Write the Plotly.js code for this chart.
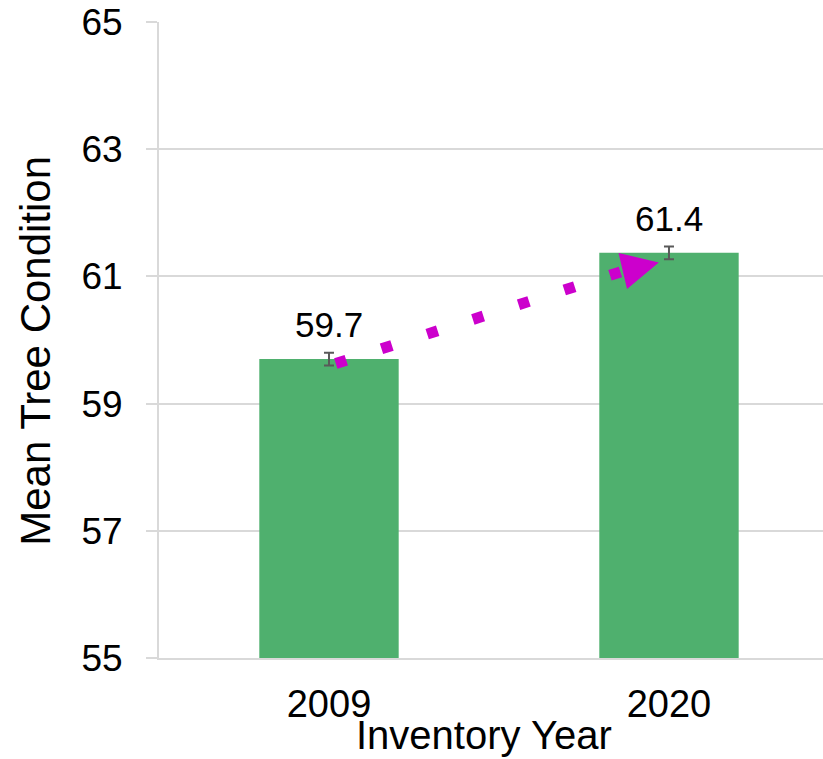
<!DOCTYPE html>
<html>
<head>
<meta charset="utf-8">
<script src="https://cdn.plot.ly/plotly-3.0.1.min.js"></script>
<style>html,body{margin:0;padding:0;background:#fff;}#chart{width:823px;height:759px;}</style>
</head>
<body>
<div id="chart"></div>
<script>
var years = ['2009', '2020'];
var meanCondition = [59.7, 61.37];
var stdErrors = [0.1, 0.1];
var valueLabels = ['59.7', '61.4'];
var yTicks = [55, 57, 59, 61, 63, 65];

var idx = years.map(function (_, i) { return i; });
var FONT = '"Liberation Sans", Arial, sans-serif';
var MAGENTA = '#CC00CC';

// trend arrow, anchored to the two bar tops
var arrowStart = { x: idx[0] + 0.02, y: meanCondition[0] - 0.07 };
var arrowBase = { x: idx[1] - 0.125, y: meanCondition[1] - 0.27 };
var arrowTip = { x: idx[1] - 0.03, y: meanCondition[1] - 0.15 };

var traces = [
  {
    type: 'bar',
    x: idx,
    y: meanCondition,
    base: 0,
    width: 0.41,
    marker: { color: '#4FB06E', line: { width: 0 } },
    error_y: { type: 'data', array: stdErrors, visible: true, color: '#595959', thickness: 2, width: 5 },
    hoverinfo: 'skip'
  },
  {
    type: 'scatter',
    mode: 'lines',
    x: [arrowStart.x, arrowBase.x],
    y: [arrowStart.y, arrowBase.y],
    line: { color: MAGENTA, width: 11, dash: '11px,37px' },
    hoverinfo: 'skip'
  }
];

var annotations = idx.map(function (i) {
  return {
    x: i, y: meanCondition[i], xref: 'x', yref: 'y',
    text: valueLabels[i], showarrow: false,
    yanchor: 'bottom', yshift: 13,
    font: { family: FONT, size: 35, color: '#000' }
  };
});
annotations.push({
  x: arrowTip.x, y: arrowTip.y, xref: 'x', yref: 'y',
  ax: arrowBase.x, ay: arrowBase.y, axref: 'x', ayref: 'y',
  text: '', showarrow: true, arrowhead: 2, arrowsize: 3.7, arrowwidth: 2,
  arrowcolor: MAGENTA, standoff: 0
});
// axis titles
annotations.push({
  xref: 'paper', yref: 'paper', x: 0.49, xanchor: 'center', y: 0, yanchor: 'middle', yshift: -77,
  text: 'Inventory Year', showarrow: false,
  font: { family: FONT, size: 40, color: '#000' }
});
annotations.push({
  xref: 'paper', yref: 'paper', x: 0, xanchor: 'center', xshift: -123,
  y: 0.483, yanchor: 'middle', textangle: -90,
  text: 'Mean Tree Condition', showarrow: false,
  font: { family: FONT, size: 42, color: '#000' }
});

var layout = {
  width: 823, height: 759,
  margin: { l: 159, r: 0, t: 22, b: 101 },
  paper_bgcolor: '#fff', plot_bgcolor: '#fff',
  showlegend: false,
  font: { family: FONT, color: '#000' },
  xaxis: {
    type: 'linear',
    range: [-0.5, 1.453],
    tickvals: idx, ticktext: years,
    tickfont: { family: FONT, size: 38, color: '#000' },
    ticks: '', ticklabelstandoff: 11,
    showgrid: false, zeroline: false,
    showline: true, linecolor: '#D9D9D9', linewidth: 2,
    fixedrange: true
  },
  yaxis: {
    range: [55, 65],
    tickvals: yTicks, ticktext: yTicks.map(String),
    tickfont: { family: FONT, size: 37, color: '#000' },
    ticks: 'outside', ticklen: 11, tickcolor: '#D9D9D9', tickwidth: 2,
    ticklabelstandoff: 16,
    showgrid: true, gridcolor: '#D9D9D9', gridwidth: 2,
    zeroline: false,
    showline: true, linecolor: '#D9D9D9', linewidth: 2,
    fixedrange: true
  },
  annotations: annotations
};

Plotly.newPlot('chart', traces, layout, { displayModeBar: false, staticPlot: true });
</script>
</body>
</html>
